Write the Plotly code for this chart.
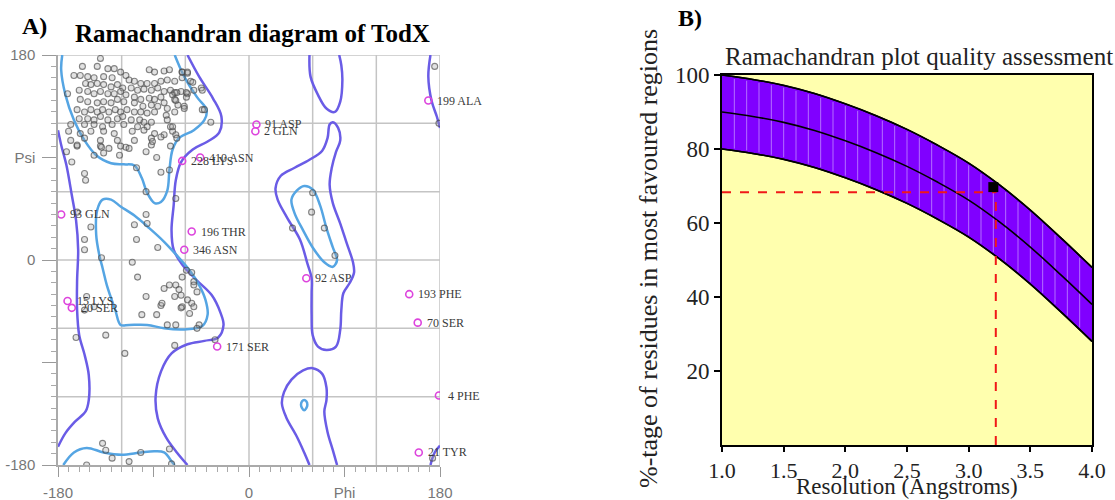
import numpy as np
import plotly.graph_objects as go

# ---------------- Panel A: Ramachandran diagram data ----------------
GEN_PHI = [
    -140, -157, -143, -133, -127, -121, -116, -165, -159, -152,
    -94, -89, -80, -75, -63, -58, -146, -137, -129, -113,
    -108, -102, -96, -89, -83, -77, -70, -63, -55, -154,
    -149, -143, -137, -130, -124, -119, -111, -105, -99, -92,
    -86, -80, -74, -64, -58, -52, -45, -171, -160, -152,
    -146, -140, -133, -127, -121, -116, -108, -102, -94, -89,
    -83, -72, -70, -59, -159, -152, -143, -137, -130, -124,
    -118, -108, -100, -92, -86, -80, -77, -67, -61, -44,
    -162, -155, -149, -143, -138, -132, -126, -121, -115, -108,
    -102, -96, -89, -78, -70, -160, -152, -146, -140, -133,
    -124, -119, -111, -103, -99, -92, -77, -36, -168, -155,
    -146, -138, -129, -118, -105, -96, -74, -170, -159, -149,
    -137, -127, -110, -99, -89, -80, -72, -168, -155, -140,
    -124, -108, -92, -83, -162, -140, -121, -92, -74,
    -172, -162, -167, -146, -139, -137, -132, -122, -116, -113,
    -106, -97, -91, -87, -83, -75, -155, -154, -162, -149,
    -108, -97, -96, -97, -69,
    -63, -58, -53, -44, -42, -61, -70, -68, -59, -69,
    -72, -69, -68, 60, 59, 41, 71, 81,
    -155, -155, -139, -106, -86, -110, -105, -80, -75, -69,
    -66, -63, -59, -54, -52, -52, -49, -64, -70, -58,
    -54, -63, -64, -56, -52, -97, -83, -82, -101, -87,
    -77, -69, -47, -49, -135, -163, -153, -146, -155,
    -117, -70, -32, -138, -135, -129, -113, -102, -75, -73,
    -153, 175, 179, 173,
]
GEN_PSI = [
    177, 170, 170, 168, 168, 165, 162, 162, 162, 161,
    167, 165, 166, 167, 165, 164, 160, 161, 160, 158,
    157, 155, 155, 155, 157, 158, 157, 160, 157, 155,
    154, 155, 154, 152, 154, 151, 151, 149, 150, 149,
    151, 148, 149, 148, 146, 149, 151, 146, 149, 148,
    146, 148, 146, 146, 148, 145, 143, 141, 142, 141,
    143, 145, 141, 143, 141, 139, 138, 139, 138, 141,
    139, 138, 135, 136, 135, 138, 133, 136, 135, 132,
    132, 130, 132, 130, 132, 130, 132, 130, 132, 130,
    130, 129, 130, 127, 130, 124, 124, 123, 126, 123,
    124, 126, 123, 123, 121, 121, 123, 121, 119, 119,
    119, 117, 119, 119, 117, 117, 117, 113, 111, 113,
    113, 111, 113, 114, 111, 110, 113, 105, 107, 105,
    105, 105, 107, 108, 100, 100, 100, 101, 100,
    95, 101, 86, 92, 99, 94, 98, 92, 99, 98,
    81, 95, 104, 90, 77, 79, 76, 70, 42, 29,
    31, 40, 32, 60, 54,
    165, 165, 156, 149, 132, 133, 147, 147, 147, 140,
    117, 110, 107, 59, 42, 28, 28, 4,
    18, 9, 2, 18, 11, -2, -15, -25, -22, -22,
    -26, -15, -9, -11, -19, -22, -28, -31, -32, -35,
    -38, -41, -42, -47, -41, -32, -40, -38, -48, -48,
    -57, -57, -57, -60, -66, -68, -32, -41, -44,
    -82, -75, -70, -161, -167, -174, -177, -169, -166, -179,
    -180, 170, 120, -174,
]

OUT_PHI = [169, 7, 6, -63, -46, -177, -54, -61, 54, 151, 159, 179, 160, -30, -171, -167]
OUT_PSI = [140, 119, 113, 87, 90, 40, 25, 9, -16, -30, -55, -119, -169, -76, -36, -42]
OUT_LABEL = ["199 ALA", "91 ASP", "2 GLN", "228 LYS", "410 ASN", "93 GLN", "196 THR",
             "346 ASN", "92 ASP", "193 PHE", "70 SER", "4 PHE", "21 TYR", "171 SER",
             "15 LYS", "20 SER"]

# Core (light blue) region boundaries
BETA_CORE_PHI = [-176, -177, -173, -165, -155, -144, -130, -118, -108, -101, -96, -89, -83, -77,
                 -75, -72, -66, -52, -42, -40, -49, -61, -70]
BETA_CORE_PSI = [180, 167, 145, 123, 105, 92, 85, 84, 83, 72, 59, 50, 51, 61,
                 79, 97, 107, 114, 123, 132, 143, 161, 180]
BETA_WRAP_PHI = [-175, -165, -153, -137, -120, -102, -89, -80, -72, -70]
BETA_WRAP_PSI = [-180, -169, -165, -169, -171, -169, -168, -169, -178, -180]
ALPHA_CORE_PHI = [-141, -144, -143, -138, -130, -121, -108, -94, -80, -68, -56, -47, -41, -39,
                  -44, -61, -80, -96, -113, -121, -126, -134, -138, -141]
ALPHA_CORE_PSI = [4, 22, 44, 53, 53, 47, 39, 28, 16, 4, -9, -22, -35, -48,
                  -58, -61, -60, -57, -57, -57, -44, -22, -7, 4]
LALPHA_CORE_PHI = [40, 45, 52, 60, 67, 73, 79, 83, 79, 71, 60, 51, 43, 40]
LALPHA_CORE_PSI = [53, 61, 65, 62, 48, 28, 11, 0, -6, -2, 11, 26, 41, 53]
SMALL_CORE_PHI = [52, 54, 55, 54, 52, 50, 49, 50, 52]
SMALL_CORE_PSI = [-123, -124, -127, -130, -132, -130, -127, -124, -123]

# Allowed (dark blue) region boundaries
ALLOW_LEFT_PHI = [-180, -177, -172, -167, -163, -161, -162, -162, -160, -155, -151, -151,
                  -154, -164, -173, -180]
ALLOW_LEFT_PSI = [114, 101, 83, 57, 35, 9, -18, -44, -66, -83, -101, -123,
                  -133, -142, -152, -164]
ALLOW_MID_PHI = [-58, -47, -34, -26, -28, -39, -53, -64, -69, -71, -73, -71, -63, -49, -35,
                 -27, -24, -29, -42, -58, -73, -83, -88, -86, -78, -68, -58]
ALLOW_MID_PSI = [180, 161, 142, 126, 112, 104, 97, 86, 70, 48, 26, 9, -4, -18, -31,
                 -46, -57, -68, -71, -74, -82, -98, -120, -139, -156, -169, -180]
ALLOW_TOPU_PHI = [57, 58, 65, 73, 81, 86, 88, 87, 85]
ALLOW_TOPU_PSI = [180, 161, 145, 133, 130, 139, 158, 171, 180]
ALLOW_BOT_PHI = [57, 52, 45, 35, 31, 33, 40, 51, 60, 69, 73, 73, 71, 74, 79, 83]
ALLOW_BOT_PSI = [-180, -169, -155, -138, -126, -116, -105, -97, -95, -100, -112, -123,
                 -133, -151, -167, -180]
ALLOW_LA_PHI = [76, 79, 84, 86, 82, 78, 76, 79, 86, 92, 98, 99, 95, 89, 87, 86, 82, 73, 65,
                60, 59, 59, 59, 55, 48, 36, 27, 25, 30, 43, 57, 69, 74, 76]
ALLOW_LA_PSI = [119, 121, 116, 105, 95, 81, 66, 50, 32, 15, -2, -11, -20, -29, -44, -61,
                -76, -79, -76, -66, -48, -29, -16, -3, 18, 37, 53, 63, 74, 81, 88, 96, 107, 119]
ALLOW_RTOP_PHI = [171, 169, 172, 177, 180]
ALLOW_RTOP_PSI = [180, 161, 140, 126, 116]
ALLOW_RBOT_PHI = [171, 175, 180]
ALLOW_RBOT_PSI = [-180, -169, -163]

GRID_VALS = [-120, -60, 0, 60, 120, 180]

# ---------------- Panel B: quality assessment data ----------------
RES = [1.0, 1.25, 1.5, 1.75, 2.0, 2.25, 2.5, 2.75, 3.0, 3.25, 3.5, 3.75, 4.0]
UPPER = [100, 98.8, 97.2, 95.0, 92.2, 89.0, 85.3, 81.0, 76.2, 70.3, 63.5, 55.9, 48.0]
MIDDLE = [90, 88.8, 87.2, 85.0, 82.2, 79.0, 75.3, 71.0, 66.2, 60.3, 53.5, 45.9, 38.0]
LOWER = [80, 78.8, 77.2, 75.0, 72.2, 69.0, 65.3, 61.0, 56.2, 50.3, 43.5, 35.9, 28.0]
MODEL_RES = 3.2
MODEL_PCT = 69.7
GUIDE_RES = 3.22
GUIDE_PCT = 68.3
X_TICKS = [1.0, 1.5, 2.0, 2.5, 3.0, 3.5, 4.0]
Y_TICKS = [20, 40, 60, 80, 100]

LIGHT = "#55A5E3"
DARK = "#6A5CE6"
SERIF = "Liberation Serif"
SANS = "Liberation Sans"

fig = go.Figure()

# grid for panel A (layout shapes)
shapes = []
for v in GRID_VALS:
    shapes.append(dict(type="line", xref="x", yref="y", x0=v, x1=v, y0=-180, y1=180,
                       line=dict(color="#C4C4C4", width=1.5), layer="below"))
    shapes.append(dict(type="line", xref="x", yref="y", x0=-180, x1=180, y0=v, y1=v,
                       line=dict(color="#C4C4C4", width=1.5), layer="below"))
shapes.append(dict(type="rect", xref="x2 domain", yref="y2 domain", x0=0, x1=1, y0=0, y1=1,
                   fillcolor="#FFFFAE", line=dict(width=0), layer="below"))


def contour(px, py, color):
    fig.add_trace(go.Scatter(x=px, y=py, mode="lines", xaxis="x", yaxis="y",
                             line=dict(color=color, width=2.5, shape="spline", smoothing=1.0),
                             hoverinfo="skip"))


for px, py in [(ALLOW_LEFT_PHI, ALLOW_LEFT_PSI), (ALLOW_MID_PHI, ALLOW_MID_PSI),
               (ALLOW_TOPU_PHI, ALLOW_TOPU_PSI), (ALLOW_BOT_PHI, ALLOW_BOT_PSI),
               (ALLOW_LA_PHI, ALLOW_LA_PSI), (ALLOW_RTOP_PHI, ALLOW_RTOP_PSI),
               (ALLOW_RBOT_PHI, ALLOW_RBOT_PSI)]:
    contour(px, py, DARK)
for px, py in [(BETA_CORE_PHI, BETA_CORE_PSI), (BETA_WRAP_PHI, BETA_WRAP_PSI),
               (ALPHA_CORE_PHI, ALPHA_CORE_PSI), (LALPHA_CORE_PHI, LALPHA_CORE_PSI),
               (SMALL_CORE_PHI, SMALL_CORE_PSI)]:
    contour(px, py, LIGHT)

fig.add_trace(go.Scatter(x=GEN_PHI, y=GEN_PSI, mode="markers", xaxis="x", yaxis="y",
                         marker=dict(size=6, color="rgba(160,160,160,0.3)",
                                     line=dict(color="rgba(70,70,70,0.65)", width=1.1))))
fig.add_trace(go.Scatter(x=OUT_PHI, y=OUT_PSI, mode="markers", xaxis="x", yaxis="y",
                         marker=dict(size=7, symbol="circle-open",
                                     line=dict(color="#DD44DD", width=1.6), color="#DD44DD")))

annotations = []
for p, s, t in zip(OUT_PHI, OUT_PSI, OUT_LABEL):
    annotations.append(dict(x=p, y=s, xref="x", yref="y", text=t, showarrow=False,
                            xanchor="left", yanchor="middle", xshift=7,
                            font=dict(family=SERIF, size=12, color="#3a3a3a")))


def paper_text(px, py, text, size, color="#222", angle=0):
    annotations.append(dict(x=px / 1115, y=1 - py / 500, xref="paper", yref="paper",
                            text=text, showarrow=False, xanchor="center", yanchor="middle",
                            textangle=angle, font=dict(family=SERIF, size=size, color=color)))


# ---------------- Panel B traces ----------------
fig.add_trace(go.Scatter(x=RES, y=LOWER, mode="lines", xaxis="x2", yaxis="y2",
                         line=dict(color="black", width=1.5, shape="spline")))
fig.add_trace(go.Scatter(x=RES, y=UPPER, mode="lines", xaxis="x2", yaxis="y2", fill="tonexty",
                         fillcolor="#8000FF", line=dict(color="black", width=1.5, shape="spline")))
sx, sy = [], []
for r in np.arange(1.1, 3.95, 0.1):
    lo = float(np.interp(r, RES, LOWER))
    hi = float(np.interp(r, RES, UPPER))
    sx += [r, r, None]
    sy += [lo + 0.6, hi - 0.6, None]
fig.add_trace(go.Scatter(x=sx, y=sy, mode="lines", xaxis="x2", yaxis="y2",
                         line=dict(color="rgba(215,185,255,0.6)", width=1)))
for arr in (LOWER, MIDDLE, UPPER):
    fig.add_trace(go.Scatter(x=RES, y=arr, mode="lines", xaxis="x2", yaxis="y2",
                             line=dict(color="black", width=1.6, shape="spline")))
fig.add_trace(go.Scatter(x=[RES[0], GUIDE_RES], y=[GUIDE_PCT, GUIDE_PCT], mode="lines",
                         xaxis="x2", yaxis="y2", line=dict(color="#F01818", width=2, dash="dash")))
fig.add_trace(go.Scatter(x=[GUIDE_RES, GUIDE_RES], y=[0, GUIDE_PCT], mode="lines",
                         xaxis="x2", yaxis="y2", line=dict(color="#F01818", width=2, dash="dash")))
fig.add_trace(go.Scatter(x=[MODEL_RES], y=[MODEL_PCT], mode="markers", xaxis="x2", yaxis="y2",
                         marker=dict(symbol="square", size=10, color="black")))

# ---------------- texts ----------------
paper_text(34, 26, "<b>A)</b>", 24, "black")
paper_text(252, 33, "<b>Ramachandran diagram of TodX</b>", 25, "black")
paper_text(690, 18, "<b>B)</b>", 24, "black")
paper_text(919, 57, "Ramachandran plot quality assessment", 25)
paper_text(648, 258, "%-tage of residues in most favoured regions", 26, angle=-90)
paper_text(907, 486, "Resolution (Angstroms)", 23)

fig.update_layout(
    width=1115, height=500, margin=dict(l=0, r=0, t=0, b=0, autoexpand=False),
    paper_bgcolor="white", plot_bgcolor="white", showlegend=False,
    shapes=shapes, annotations=annotations,
    xaxis=dict(domain=[58 / 1115, 440 / 1115], range=[-180, 180], anchor="y", automargin=False,
               tickmode="array", tickvals=[-180, -90, 0, 90, 180],
               ticktext=["-180", "", "0", "Phi", "180"],
               ticks="outside", ticklen=10, tickcolor="#999", tickwidth=1,
               showgrid=False, zeroline=False, showline=True, linecolor="#AAA", linewidth=1.5,
               tickfont=dict(family=SANS, size=15, color="#777"), ticklabelstandoff=3,
               minor=dict(ticks="outside", tickmode="linear", tick0=-180, dtick=10,
                          ticklen=5, tickcolor="#AAA", showgrid=False)),
    yaxis=dict(domain=[1 - 465 / 500, 1 - 55 / 500], range=[-180, 180], anchor="x", automargin=False,
               tickmode="array", tickvals=[-180, -90, 0, 90, 180],
               ticktext=["-180", "", "0", "Psi", "180"],
               ticks="outside", ticklen=14, tickcolor="#999", tickwidth=1,
               showgrid=False, zeroline=False, showline=True, linecolor="#AAA", linewidth=1.5,
               tickfont=dict(family=SANS, size=15, color="#777"), ticklabelstandoff=4,
               minor=dict(ticks="outside", tickmode="linear", tick0=-180, dtick=10,
                          ticklen=5, tickcolor="#AAA", showgrid=False)),
    xaxis2=dict(domain=[722 / 1115, 1092 / 1115], range=[1, 4], anchor="y2", automargin=False,
                tickmode="array", tickvals=X_TICKS, ticktext=[f"{v:.1f}" for v in X_TICKS],
                ticks="outside", ticklen=5, tickwidth=2, tickcolor="black",
                showgrid=False, zeroline=False, showline=True, linecolor="black", linewidth=2,
                mirror=True, tickfont=dict(family=SERIF, size=22, color="#222")),
    yaxis2=dict(domain=[1 - 445 / 500, 1 - 75 / 500], range=[0, 100], anchor="x2", automargin=False,
                tickmode="array", tickvals=Y_TICKS,
                ticks="outside", ticklen=6, tickwidth=2, tickcolor="black",
                showgrid=False, zeroline=False, showline=True, linecolor="black", linewidth=2,
                mirror=True, tickfont=dict(family=SERIF, size=23, color="#222")),
)

fig.write_html("out.html", config={"displayModeBar": False},
               post_script="document.body.style.margin='0px';")
